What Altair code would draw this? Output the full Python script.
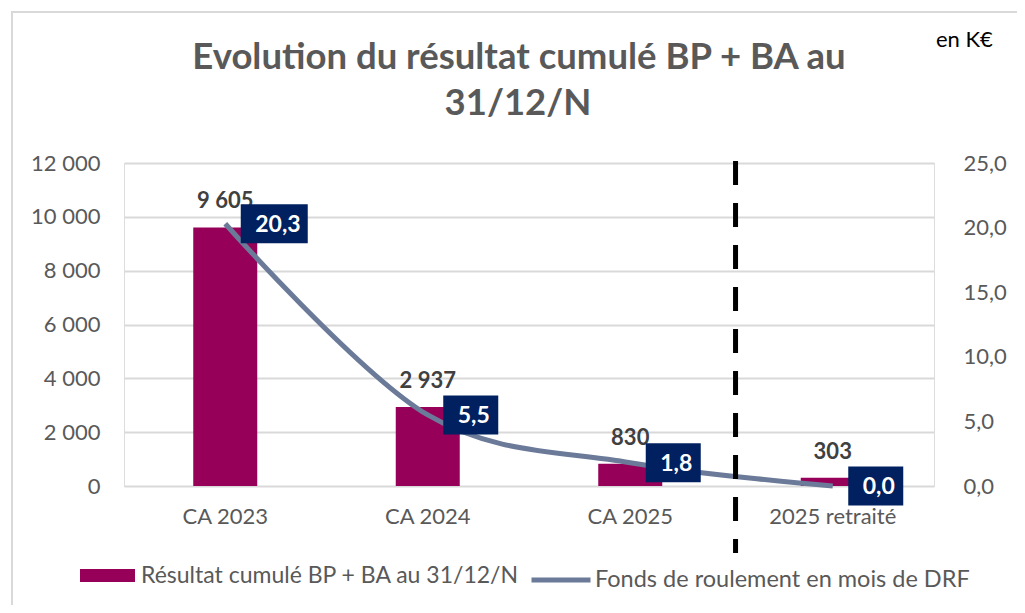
import altair as alt
import pandas as pd

# ---- data ----
categories = ["CA 2023", "CA 2024", "CA 2025", "2025 retraité"]
resultat_keur = [9605, 2937, 830, 303]
fonds_mois_drf = [20.3, 5.5, 1.8, 0.0]
left_ticks = [0, 2000, 4000, 6000, 8000, 10000, 12000]
right_ticks = [0, 5, 10, 15, 20, 25]
separator_before = ["2025 retraité"]
unit_note = ["en K€"]

SERIE_BAR = "Résultat cumulé BP + BA au 31/12/N"
SERIE_LINE = "Fonds de roulement en mois de DRF"
TITLE_LINES = ["Evolution du résultat cumulé BP + BA au", "31/12/N"]

# ---- styles ----
FONT = "Lato"
BAR_COLOR = "#970059"
LINE_COLOR = "#6B7A98"
NAVY = "#002060"
AXIS_TXT = "#595959"
GRID = "#D9D9D9"

PATH_SHORT = "M0.31,-0.39H1.41V0.39H0.31Z"
PATH_LONG = "M0.31,-0.39H1.65V0.39H0.31Z"

df = pd.DataFrame({"cat": categories, "res": resultat_keur, "fdr": fonds_mois_drf})

xscale = alt.Scale(domain=categories, paddingInner=0, paddingOuter=0)
x_axis = alt.Axis(labelAngle=0, ticks=False, domain=False, grid=False,
                  labelFontSize=22, labelFont=FONT, labelColor=AXIS_TXT, labelPadding=20)
x_enc = alt.X("cat:N", scale=xscale, title=None, axis=x_axis)

yl_scale = alt.Scale(domain=[0, 12000], nice=False)
yr_scale = alt.Scale(domain=[0, 25], nice=False)

base = alt.Chart(df).transform_calculate(
    res_lab="replace(format(datum.res, ','), ',', ' ')",
    fdr_lab="replace(format(datum.fdr, '.1f'), '.', ',')",
    serie_bar=f"'{SERIE_BAR}'",
    serie_line=f"'{SERIE_LINE}'",
)

bars = base.mark_bar(size=64).encode(
    x=x_enc,
    y=alt.Y("res:Q", scale=yl_scale, title=None,
            axis=alt.Axis(orient="left", values=left_ticks,
                          labelExpr="replace(format(datum.value, ','), ',', ' ')",
                          grid=True, gridColor=GRID, gridWidth=2, domain=False, ticks=False,
                          labelFontSize=22, labelFont=FONT, labelColor=AXIS_TXT, labelPadding=24)),
    color=alt.Color("serie_bar:N", scale=alt.Scale(domain=[SERIE_BAR], range=[BAR_COLOR]),
                    legend=alt.Legend(title=None, orient="none", legendX=-44, legendY=385,
                                      symbolType="M-1,-0.236H1V0.236H-1Z", symbolSize=3025,
                                      symbolStrokeWidth=0, labelFontSize=23, labelFont=FONT,
                                      labelColor=AXIS_TXT, labelOffset=6, padding=0,
                                      symbolOffset=0, labelLimit=600)),
)

bar_labels = base.mark_text(dy=-19, baseline="alphabetic", fontSize=22, font=FONT,
                            fontWeight="bold", color="#404040").encode(
    x=x_enc,
    y=alt.Y("res:Q", scale=yl_scale, axis=None),
    text="res_lab:N",
)

line = base.mark_line(interpolate="cardinal", strokeWidth=5).encode(
    x=x_enc,
    y=alt.Y("fdr:Q", scale=yr_scale, title=None,
            axis=alt.Axis(orient="right", values=right_ticks,
                          labelExpr="replace(format(datum.value, '.1f'), '.', ',')",
                          grid=False, domain=False, ticks=False,
                          labelFontSize=22, labelFont=FONT, labelColor=AXIS_TXT, labelPadding=29)),
    stroke=alt.Stroke("serie_line:N", scale=alt.Scale(domain=[SERIE_LINE], range=[LINE_COLOR]),
                      legend=alt.Legend(title=None, orient="none", legendX=405, legendY=385,
                                        symbolType="stroke", symbolSize=3481, symbolStrokeWidth=5,
                                        labelFontSize=23.5, labelFont=FONT, labelColor=AXIS_TXT,
                                        labelOffset=2, padding=0, symbolOffset=0, labelLimit=600)),
)

boxes = base.transform_calculate(
    box=f"length(datum.fdr_lab) > 3 ? '{PATH_LONG}' : '{PATH_SHORT}'"
).mark_point(filled=True, opacity=1, size=10000, color=NAVY, strokeWidth=0).encode(
    x=x_enc,
    y=alt.Y("fdr:Q", scale=yr_scale, axis=None),
    shape=alt.Shape("box:N", scale=None),
)

box_labels = base.mark_text(align="left", baseline="alphabetic", dx=30, dy=8, fontSize=23,
                            font=FONT, fontWeight="bold", color="white").encode(
    x=x_enc,
    y=alt.Y("fdr:Q", scale=yr_scale, axis=None),
    text="fdr_lab:N",
)

separator = alt.Chart(pd.DataFrame({"cat": separator_before})).mark_rule(
    strokeDash=[24, 18], strokeWidth=5, color="black"
).encode(
    x=alt.X("cat:N", scale=xscale, title=None, axis=x_axis, bandPosition=0.02),
    y=alt.value(-2),
    y2=alt.value(390),
)

note = alt.Chart(pd.DataFrame({"t": unit_note})).mark_text(
    align="left", baseline="alphabetic", fontSize=22, font=FONT, color="black"
).encode(x=alt.value(812), y=alt.value(-116), text="t:N")

title1 = alt.Chart(pd.DataFrame({"t": [TITLE_LINES[0]]})).mark_text(
    align="center", baseline="alphabetic", fontSize=36.5, font=FONT, fontWeight="bold", color=AXIS_TXT
).encode(x=alt.value(395), y=alt.value(-94), text="t:N")

title2 = alt.Chart(pd.DataFrame({"t": [TITLE_LINES[1]]})).mark_text(
    align="center", baseline="alphabetic", fontSize=36.5, font=FONT, fontWeight="bold", color=AXIS_TXT
).encode(x=alt.value(394), y=alt.value(-48), text="t:N")

frame = alt.Chart(pd.DataFrame({"t": ["frame"]})).mark_rect(
    fill=None, stroke=GRID, strokeWidth=2
).encode(x=alt.value(-112), x2=alt.value(1000), y=alt.value(-151), y2=alt.value(500))

chart = alt.layer(
    bars, bar_labels, line, boxes, box_labels, separator, note, title1, title2, frame
).resolve_scale(
    y="independent"
).properties(
    width=810,
    height=323,
    padding={"left": 116, "top": 155, "right": 83, "bottom": 119},
    autosize=alt.AutoSizeParams(type="none"),
).configure_view(strokeWidth=0).configure(background="white")

chart.save("out.html", embed_options={"renderer": "svg", "actions": False})
